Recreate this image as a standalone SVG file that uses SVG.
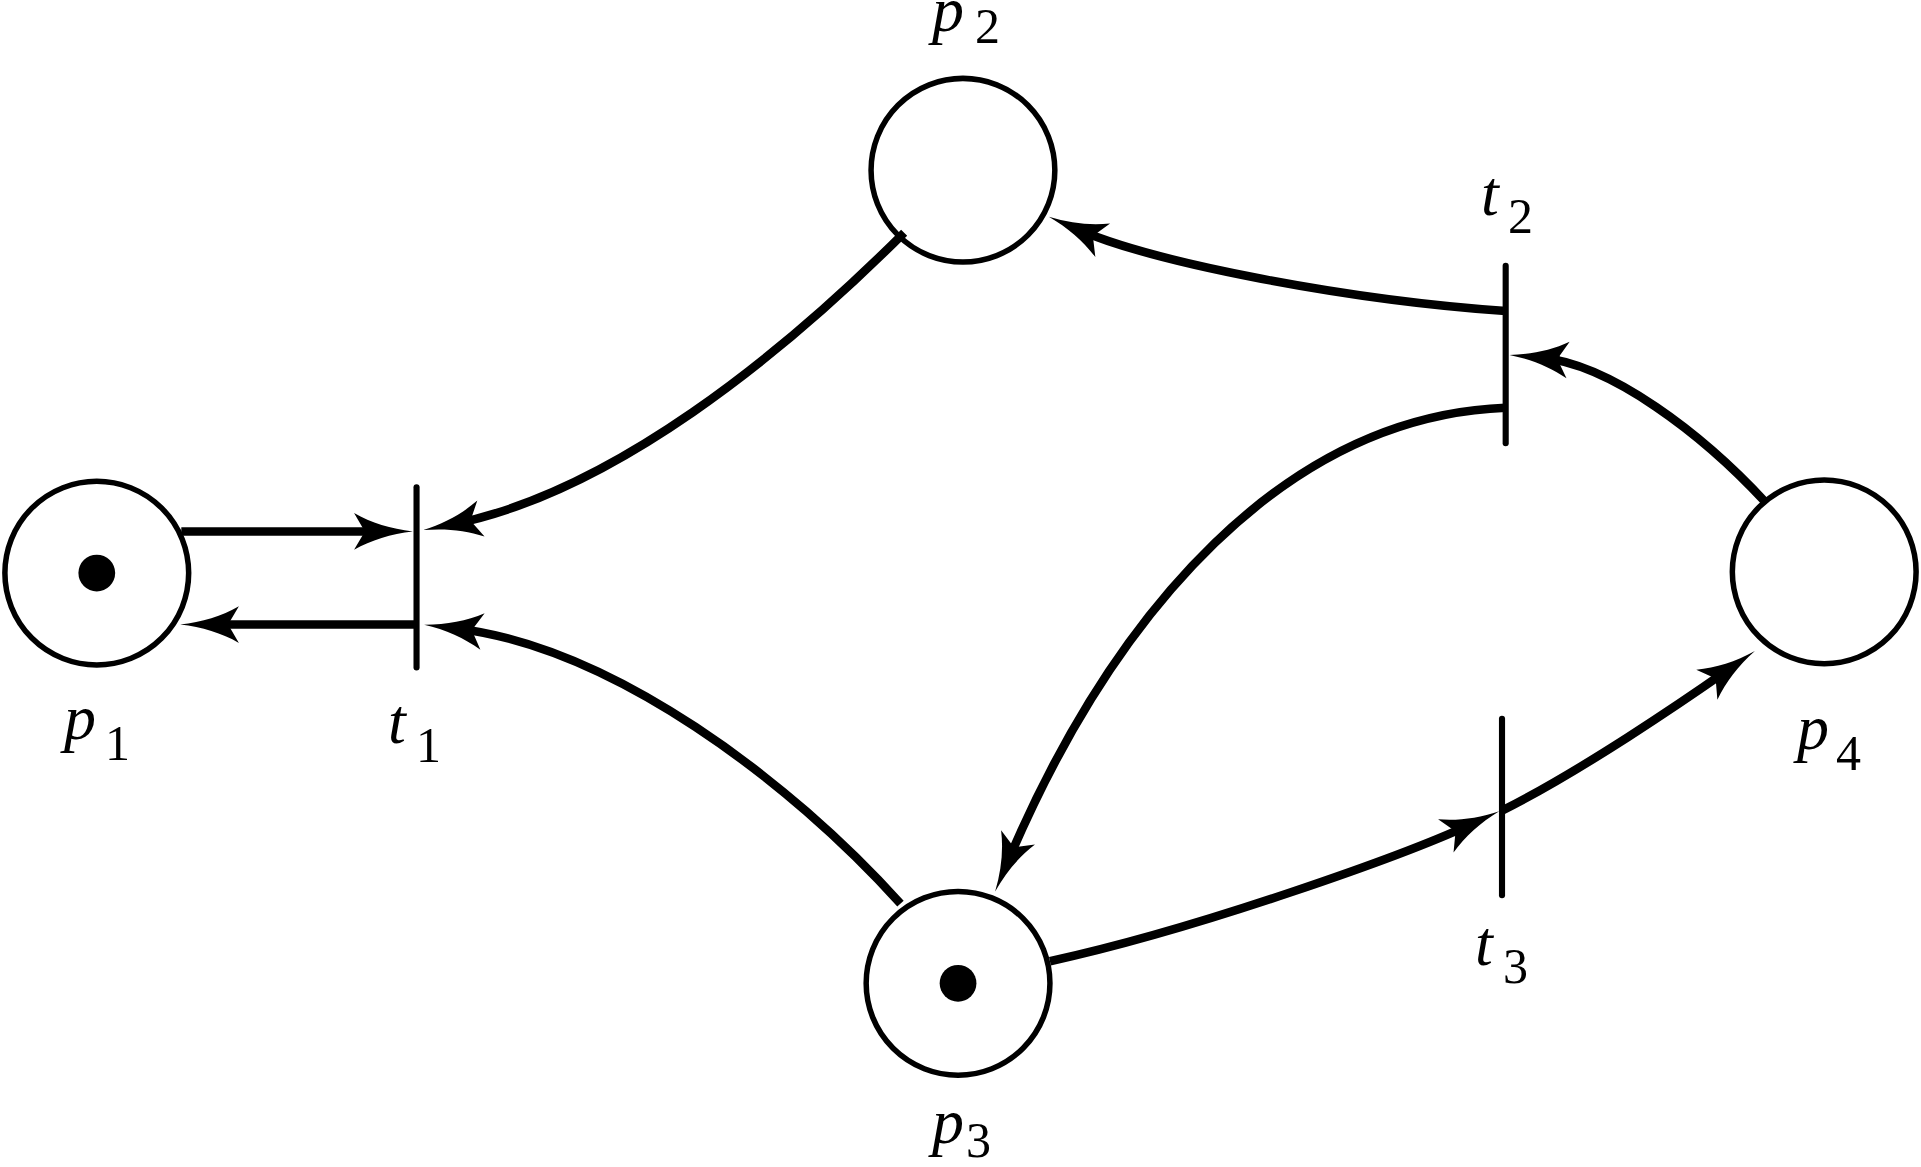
<svg xmlns="http://www.w3.org/2000/svg" width="1921" height="1167" viewBox="0 0 1921 1167">
<style>
.place{fill:none;stroke:#000;stroke-width:4.5}
.token{fill:#000}
.trans{stroke:#000;stroke-width:5;stroke-linecap:round}
.arc{fill:none;stroke:#000;stroke-width:7;marker-end:url(#ah)}
.lbl{font-family:"Liberation Serif","Times New Roman",serif;font-style:italic;font-size:64px;fill:#000}
.sub{font-family:"Liberation Serif","Times New Roman",serif;font-size:50px;fill:#000}
</style>
<defs>
<marker id="ah" markerUnits="userSpaceOnUse" markerWidth="60" markerHeight="40" refX="-25" refY="0" orient="auto" overflow="visible">
<path d="M0,0 C-18,-2 -34,-7 -48,-15 L-41,-3 L-41,3 L-48,15 C-34,7 -18,2 0,0 Z" fill="#000"/>
</marker>
</defs>
<rect width="1921" height="1167" fill="#fff"/>
<g transform="scale(1.22513 1.22455)">
<g id="connectors">
<path class="arc" d="M148,434 L312,434"/>
<path class="arc" d="M340,510 L172,510"/>
<path class="arc" d="M738,190 C638,290 500,402 370,428"/>
<path class="arc" d="M735,738 C645,638 500,528 371,513"/>
<path class="arc" d="M1229,254 C1100,245 943,215 879,187"/>
<path class="arc" d="M1441,410 C1390,355 1315,297 1257,292"/>
<path class="arc" d="M1229,333 C1050,340 910,497 822,705"/>
<path class="arc" d="M857,785 C980,758 1147,698 1201,673"/>
<path class="arc" d="M1226,662 C1290,630 1375,572 1412,546"/>
</g>
<g id="p1">
<circle class="place" cx="79" cy="468" r="75"/>
<circle class="token" cx="79" cy="468" r="15"/>
</g>
<g id="p2">
<circle class="place" cx="786" cy="139" r="75"/>
</g>
<g id="p3">
<circle class="place" cx="782" cy="803" r="75"/>
<circle class="token" cx="782" cy="803" r="15"/>
</g>
<g id="p4">
<circle class="place" cx="1489" cy="467" r="75"/>
</g>
<g id="t1">
<line class="trans" x1="340" y1="398" x2="340" y2="545"/>
</g>
<g id="t2">
<line class="trans" x1="1229" y1="217" x2="1229" y2="362"/>
</g>
<g id="t3">
<line class="trans" x1="1226" y1="587" x2="1226" y2="731"/>
</g>
</g>
<g id="labels">
<text class="lbl" x="64" y="739">p</text><text class="sub" x="105" y="760">1</text>
<text class="lbl" x="932" y="31">p</text><text class="sub" x="975" y="43">2</text>
<text class="lbl" x="932" y="1143">p</text><text class="sub" x="966" y="1157">3</text>
<text class="lbl" x="1797" y="749">p</text><text class="sub" x="1836" y="770">4</text>
<text class="lbl" x="388" y="743">t</text><text class="sub" x="416" y="762">1</text>
<text class="lbl" x="1481" y="215">t</text><text class="sub" x="1508" y="233">2</text>
<text class="lbl" x="1475" y="965">t</text><text class="sub" x="1503" y="983">3</text>
</g>
</svg>
